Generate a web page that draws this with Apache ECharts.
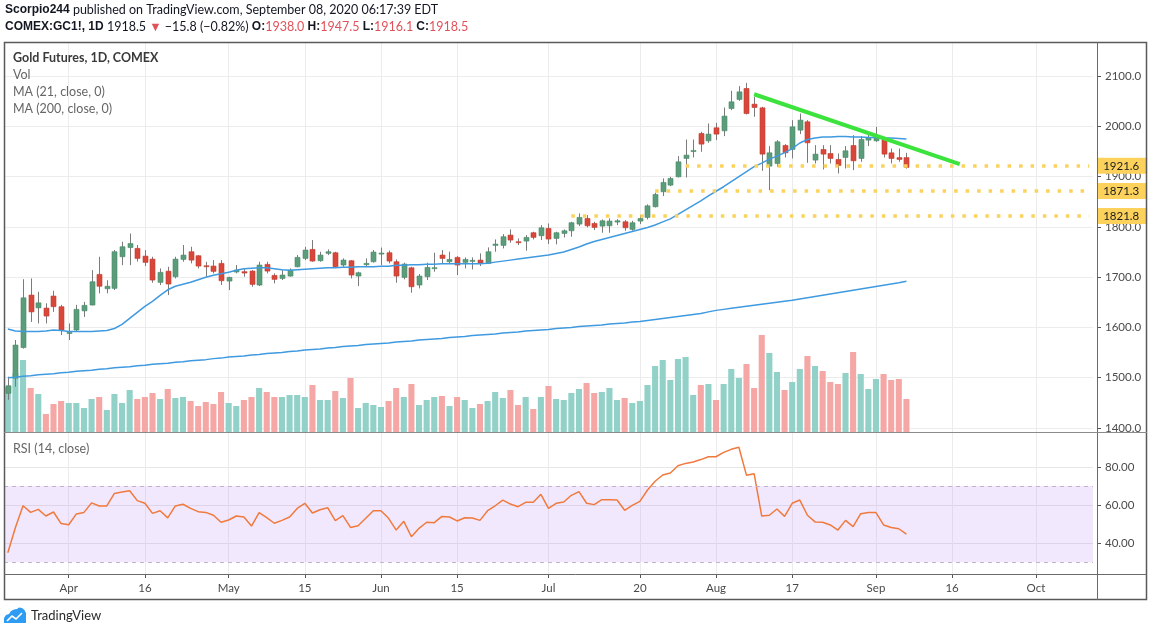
<!DOCTYPE html>
<html><head><meta charset="utf-8">
<script src="https://cdn.jsdelivr.net/npm/echarts/dist/echarts.min.js"></script>
<style>html,body{margin:0;padding:0;background:#fff}#c{width:1151px;height:629px}</style>
</head><body><div id="c"></div>
<script>
// ---------- DATA ----------
const dates = [
'2020-03-20','2020-03-23','2020-03-24','2020-03-25','2020-03-26','2020-03-27','2020-03-30','2020-03-31',
'2020-04-01','2020-04-02','2020-04-03','2020-04-06','2020-04-07','2020-04-08','2020-04-09','2020-04-13','2020-04-14','2020-04-15','2020-04-16','2020-04-17','2020-04-20','2020-04-21','2020-04-22','2020-04-23','2020-04-24','2020-04-27','2020-04-28','2020-04-29','2020-04-30',
'2020-05-01','2020-05-04','2020-05-05','2020-05-06','2020-05-07','2020-05-08','2020-05-11','2020-05-12','2020-05-13','2020-05-14','2020-05-15','2020-05-18','2020-05-19','2020-05-20','2020-05-21','2020-05-22','2020-05-26','2020-05-27','2020-05-28','2020-05-29',
'2020-06-01','2020-06-02','2020-06-03','2020-06-04','2020-06-05','2020-06-08','2020-06-09','2020-06-10','2020-06-11','2020-06-12','2020-06-15','2020-06-16','2020-06-17','2020-06-18','2020-06-19','2020-06-22','2020-06-23','2020-06-24','2020-06-25','2020-06-26','2020-06-29','2020-06-30',
'2020-07-01','2020-07-02','2020-07-06','2020-07-07','2020-07-08','2020-07-09','2020-07-10','2020-07-13','2020-07-14','2020-07-15','2020-07-16','2020-07-17','2020-07-20','2020-07-21','2020-07-22','2020-07-23','2020-07-24','2020-07-27','2020-07-28','2020-07-29','2020-07-30','2020-07-31',
'2020-08-03','2020-08-04','2020-08-05','2020-08-06','2020-08-07','2020-08-10','2020-08-11','2020-08-12','2020-08-13','2020-08-14','2020-08-17','2020-08-18','2020-08-19','2020-08-20','2020-08-21','2020-08-24','2020-08-25','2020-08-26','2020-08-27','2020-08-28','2020-08-31',
'2020-09-01','2020-09-02','2020-09-03','2020-09-04','2020-09-08','2020-09-09','2020-09-10','2020-09-11','2020-09-14','2020-09-15','2020-09-16','2020-09-17','2020-09-18','2020-09-21','2020-09-22','2020-09-23','2020-09-24','2020-09-25','2020-09-28','2020-09-29','2020-09-30',
'2020-10-01','2020-10-02','2020-10-05','2020-10-06','2020-10-07','2020-10-08','2020-10-09','2020-10-12'
];

// [open, high, low, close]
const candles = [
[1469,1502,1456,1484],[1499,1575,1482,1565],[1560,1696,1558,1659],[1664.5,1697.6,1611,1631],[1639,1671,1608,1649],
[1638.6,1648,1608,1622.7],[1662.5,1673,1631,1641.3],[1641.3,1645,1585,1595],
[1588,1608,1575,1590],[1595,1645,1592,1636],[1633,1651,1621,1644],[1644.6,1714,1644,1691],[1705.6,1740.7,1667.8,1682],
[1677,1694,1668,1682],[1677.8,1754,1674.4,1750.7],[1740.7,1770.6,1724,1760.6],[1759,1787,1724,1767],[1757.3,1764,1731,1737.4],
[1742,1754,1722,1729.5],[1736,1740.7,1689,1694.3],[1689.7,1717.5,1684.4,1709.6],[1712,1720.8,1664.5,1686.4],[1701,1740.7,1697.6,1736],
[1735.4,1764,1730.8,1744],[1750.7,1760.6,1727.5,1734],[1742.7,1744,1717.5,1722.2],[1722.8,1730.8,1701,1720.8],[1722.2,1734,1707.6,1711.6],
[1727.5,1734,1684.4,1693],
[1692.3,1701,1674.4,1699.6],[1710.3,1724.2,1707.6,1714.2],[1711,1717.5,1701,1708.3],[1712.2,1714.2,1681,1685.7],[1684.4,1730.8,1682.4,1724.2],
[1725.5,1730.8,1707.6,1712.2],[1703.6,1707.6,1687.7,1695.7],[1697.6,1714.2,1694.3,1704.3],[1702.3,1717.5,1701,1714.2],[1720.8,1744,1719.5,1739.4],
[1737.4,1760.6,1734,1754],[1755.3,1773.9,1730.8,1732.1],[1732.8,1750.7,1730.8,1744],[1747.4,1755.3,1744,1750.7],[1748.7,1750.7,1719.5,1720.8],
[1724.2,1737.4,1720.8,1734.1],[1732.8,1734.1,1697.6,1704.3],[1702.3,1710.9,1682.4,1708.9],[1724.8,1737.4,1720.8,1727.5],[1730.8,1754,1729,1750],
[1746,1759,1724,1748],[1748.7,1753,1727.5,1732.1],[1730.8,1735.4,1689,1702.3],[1699.6,1728.8,1695.7,1726.1],[1718.8,1720.8,1669.1,1681],
[1684.4,1706.3,1677.8,1702.3],[1701,1728.8,1694.3,1719.5],[1717.5,1748.7,1710.9,1719],[1744.1,1754,1726.1,1737.4],[1730.8,1750.7,1727.5,1735.4],
[1739.4,1742,1704.3,1724.2],[1729.5,1739.4,1717.5,1735.4],[1732,1739.4,1715.5,1733.5],[1734.1,1747.4,1722.2,1727.5],[1727.5,1759.3,1726.1,1750.7],
[1763.3,1775.2,1750.7,1765.9],[1763.3,1785.8,1757.3,1780.5],[1783.8,1795.1,1768.6,1773.9],[1770.6,1777.2,1763.9,1768.6],[1771.9,1783.8,1752.7,1779.2],
[1788.5,1790.5,1775.2,1779.2],[1782.5,1803.7,1773.9,1798.4],
[1797.1,1807,1765.9,1775.9],[1777.2,1790.5,1765.3,1788.5],[1787.1,1795.1,1779.2,1792.4],[1792.4,1810.3,1780.5,1808.4],[1805.7,1826.9,1801.7,1818.9],
[1816.9,1823.6,1799.1,1802.4],[1807,1810.3,1793.8,1799.1],[1801.7,1815,1788.5,1812.3],[1802.4,1817,1788.5,1811.7],[1809.7,1815.6,1803.7,1812.3],
[1810.3,1813.6,1792.4,1798.4],[1795.1,1812.3,1792.4,1808.4],[1811.7,1823.6,1805.7,1816.9],[1819,1845,1815,1842],[1840.2,1868,1838.8,1864.7],
[1870,1896.5,1861.4,1888.6],[1883.2,1899.8,1881.2,1896.5],[1899.8,1940.9,1898.5,1929.6],[1936.3,1974,1898.5,1942.9],[1950,1974,1938.3,1952],
[1986,1989.3,1949.5,1964.8],[1971.4,2005.9,1967.4,1984.7],
[1997.3,2007.2,1972.7,1984.7],[1991.3,2037.7,1980.7,2020.5],[2035.7,2070.8,2032.4,2049],[2053.6,2080.1,2050.9,2068.8],[2075.5,2086.7,2023.8,2025.7],
[2044.3,2058.9,2019.1,2037.7],[2037,2039,1911.7,1944.9],[1921,1960.8,1873.3,1947.5],[1926.3,1972.7,1919.7,1969.4],[1962.1,1964.8,1938.3,1947.5],
[1954.2,2012.5,1936.3,1999.2],[1992.6,2025.7,1984.7,2012.5],[2009.2,2012.5,1927.7,1967.4],[1933,1962.8,1926.3,1944.9],[1954.2,1962.8,1914.4,1944.9],
[1946.2,1962.8,1926.3,1936.3],[1934.3,1946.2,1906.4,1922.4],[1938.3,1960.8,1916.4,1951.5],[1962.1,1982.7,1913.1,1931.6],[1936.3,1980.7,1929.6,1974.1],
[1972.7,1987.3,1960.8,1978],
[1971.4,1999.2,1969.4,1978],[1976,1979.4,1938.3,1944.9],[1947.5,1956.1,1926.3,1936.3],[1938,1956.1,1929.6,1934.3],[1938.0,1947.5,1916.1,1918.5]
];

// relative volume (bar heights as read)
const volume = [
45,59,72,44,38,18,28,31,29,29,24,33,35,22,38,29,42,33,35,39,33,43,34,35,31,26,30,28,40,29,
26,32,35,44,40,35,35,37,37,35,47,32,32,41,34,54,24,29,27,
25,31,44,35,48,27,32,35,36,26,35,32,24,28,31,40,34,42,27,35,23,35,46,33,32,39,43,49,39,40,
44,32,34,29,31,47,66,72,52,73,75,37,47,48,32,48,63,54,68,
44,97,79,60,42,50,63,76,66,61,50,48,59,80,58,43,53,58,52,53,33
];

const ma21 = [
1597,1593,1592,1592,1592,1593,1595,1594,1592,1592,
1592,1592,1593,1594,1598,1606,1618,1630,1642,1652,
1664,1675,1682,1686,1690,1695,1700,1704,1707,1710,
1714,1717,1718,1719,1719,1717,1715,1714,1715,1716,
1717,1718,1719,1719,1720,1720,1721,1721,1721,1722,
1722,1724,1724,1725,1725,1726,1726,1727,1727,1727,
1727,1727,1727,1728,1730,1732,1734,1736,1738,1740,
1742,1744,1747,1750,1755,1760,1766,1771,1775,1779,
1783,1787,1791,1795,1799,1804,1810,1816,1825,1834,
1843,1852,1862,1871,1880,1890,1900,1910,1920,1927,
1935,1941,1948,1956,1967,1974,1977,1979,1979,1980,
1980,1979,1979,1978,1978,1977,1977,1976,1975
];

const ma200 = [
1500,1501,1503,1504,1506,1507,1508,1510,1511,1513,1514,1515,1517,1518,1520,1521,1522,1524,1525,1527,
1528,1529,1531,1532,1534,1535,1536,1538,1539,1541,1542,1543,1545,1546,1548,1549,1550,1552,1553,1555,
1556,1557,1559,1560,1562,1563,1564,1566,1567,
1568,1569,1571,1572,1573,1575,1576,1577,1578,1580,1581,1582,1584,1585,1586,1587,1589,1590,1591,1593,
1594,1595,1596,1598,1599,1600,1602,1603,1604,1605,1607,1608,1609,1611,1612,
1614,1616,1618,1620,1622,1624,1626,1628,1631,1634,
1636,1638,1640,1642,1644,1646,1648,1650,1652,1654,
1656.5,1659,1661.5,1664,1666.5,1669,1671.5,1674,1676.5,1679,1681.5,1684,1686.5,1689,1692
];

const rsi = [
34.9,48.2,59.6,56.1,57.7,54.2,56.3,50.2,49.6,55.3,
56.1,61.1,59.5,59.5,66.1,66.8,67.5,62.3,60.9,55.6,
57.0,53.2,59.5,60.4,58.2,56.5,56.1,54.6,50.9,52.1,
54.2,53.7,48.9,56.0,53.3,50.4,51.9,53.7,58.2,60.9,
55.8,57.5,58.6,51.8,54.4,48.2,49.1,53.0,57.0,57.0,
53.0,46.8,51.4,43.3,47.7,50.9,50.7,54.0,53.7,51.6,
53.3,53.2,51.9,57.0,59.6,62.6,60.5,59.1,61.4,61.4,
65.6,58.2,60.9,61.6,65.1,67.0,60.9,60.2,62.8,62.8,
62.6,57.2,59.8,61.9,67.9,72.5,75.8,76.8,80.7,81.9,
82.6,83.9,85.4,85.4,87.7,89.3,90.4,75.6,76.5,54.2,
54.6,57.9,54.0,60.9,62.6,54.6,51.1,50.9,49.5,46.8,
51.9,48.6,55.4,56.0,56.0,49.5,48.2,47.5,44.7
];

const tickLabels = [
['2020-04-01','Apr'],['2020-04-16','16'],['2020-05-01','May'],['2020-05-15','15'],['2020-06-01','Jun'],
['2020-06-15','15'],['2020-07-01','Jul'],['2020-07-20','20'],['2020-08-03','Aug'],['2020-08-17','17'],
['2020-09-01','Sep'],['2020-09-16','16'],['2020-10-01','Oct']
];

const levelValues = [1921.6, 1871.3, 1821.8];
const levelStarts = ['2020-07-28', '2020-07-22', '2020-07-07'];
const trendLine = [['2020-08-10', 2064], ['2020-09-17', 1925]];
const quote = ['1918.5', '\u221215.8', '\u22120.82%'];

// ---------- CHART ----------
const FONT = 'Lato, "Noto Sans", sans-serif';
const UP = '#5b9c7a', DN = '#d8473a', UPB = '#4a8a69', DNB = '#c53c30';
const VUP = '#91d1c8', VDN = '#f5a7a6';
const tickMap = Object.fromEntries(tickLabels);
const showTick = (idx, val) => tickMap[val] !== undefined;

const candleData = candles.map((c, i) => [dates[i], c[0], c[1], c[2], c[3]]);
const volData = volume.map((v, i) => ({
  value: [dates[i], v],
  itemStyle: { color: candles[i][3] >= candles[i][0] ? VUP : VDN }
}));

function renderCandle(params, api) {
  const x = api.value(0);
  const o = api.value(1), h = api.value(2), l = api.value(3), c = api.value(4);
  const pO = api.coord([x, o]), pC = api.coord([x, c]);
  const pH = api.coord([x, h]), pL = api.coord([x, l]);
  const bw = api.size([1, 0])[0] * 0.66;
  const up = c >= o;
  const cx = Math.round(pO[0]) + 0.5;
  const top = Math.min(pO[1], pC[1]), bot = Math.max(pO[1], pC[1]);
  return {
    type: 'group',
    children: [
      { type: 'line', shape: { x1: cx, y1: pH[1], x2: cx, y2: pL[1] }, style: { stroke: '#7b7b7b', lineWidth: 1 } },
      { type: 'rect', shape: { x: cx - bw / 2, y: top, width: bw, height: Math.max(bot - top, 1) },
        style: { fill: up ? UP : DN, stroke: up ? UPB : DNB, lineWidth: 0.6 } }
    ]
  };
}

const levelLines = levelValues.map((v, k) => [
  { coord: [levelStarts[k], v], symbol: 'none',
    lineStyle: { color: '#fbd25b', width: 3.5, type: [3.5, 8] },
    label: { show: true, position: 'end', formatter: v.toFixed(1), distance: 8,
      backgroundColor: '#fcd25c', color: '#1c1c1c', fontSize: 11.5, fontFamily: FONT,
      padding: [2, 0, 1, 6], width: 44, lineHeight: 13, align: 'left' } },
  { coord: [dates[dates.length - 1], v], symbol: 'none' }
]);
const trend = [
  { coord: trendLine[0], symbol: 'none', lineStyle: { color: '#3de33d', width: 4, type: 'solid' }, label: { show: false } },
  { coord: trendLine[1], symbol: 'none' }
];

const xBase = {
  type: 'category', data: dates, boundaryGap: true,
  axisLine: { show: false },
  splitLine: { show: true, interval: showTick, alignWithLabel: true, lineStyle: { color: '#ececec', width: 1 } }
};

const last = candles[candles.length - 1];

const option = {
  animation: false,
  backgroundColor: '#fff',
  grid: [
    { left: 4, right: 58, top: 42, bottom: 197 },
    { left: 4, right: 58, top: 432, bottom: 55 }
  ],
  xAxis: [
    Object.assign({}, xBase, { gridIndex: 0, axisLabel: { show: false }, axisTick: { show: false } }),
    Object.assign({}, xBase, { gridIndex: 1,
      axisTick: { show: true, interval: showTick, alignWithLabel: true, length: 4, lineStyle: { color: '#555' } },
      axisLabel: { show: true, interval: showTick, formatter: v => tickMap[v] || '', color: '#4a4a4a',
        fontSize: 11.5, fontFamily: FONT, margin: 8 } })
  ],
  yAxis: [
    { type: 'value', gridIndex: 0, position: 'right', offset: 4, min: 1392, max: 2168, splitNumber: 8,
      axisLine: { show: false }, axisTick: { show: true, length: 4, lineStyle: { color: '#555' } },
      axisLabel: { color: '#4a4a4a', fontSize: 11.5, fontFamily: FONT, margin: 8, showMinLabel: false, showMaxLabel: false,
        formatter: v => v.toFixed(1) },
      splitLine: { show: true, lineStyle: { color: '#ececec' } } },
    { type: 'value', gridIndex: 0, min: 0, max: 390, show: false, splitLine: { show: false } },
    { type: 'value', gridIndex: 1, position: 'right', offset: 4, min: 23.68, max: 98.42, splitNumber: 4,
      axisLine: { show: false }, axisTick: { show: true, length: 4, lineStyle: { color: '#555' } },
      axisLabel: { color: '#4a4a4a', fontSize: 11.5, fontFamily: FONT, margin: 8, showMinLabel: false, showMaxLabel: false,
        formatter: v => v.toFixed(2) },
      splitLine: { show: true, lineStyle: { color: '#e6e6e6' } } }
  ],
  series: [
    { type: 'bar', name: 'Vol', xAxisIndex: 0, yAxisIndex: 1, data: volData, barWidth: '80%', z: 1, silent: true },
    { type: 'custom', name: 'Gold', xAxisIndex: 0, yAxisIndex: 0, data: candleData, renderItem: renderCandle,
      encode: { x: 0, y: [1, 2, 3, 4] }, z: 3, silent: true },
    { type: 'line', name: 'MA21', xAxisIndex: 0, yAxisIndex: 0, data: ma21, showSymbol: false, symbol: 'none',
      lineStyle: { color: '#3f9ae0', width: 1.5 }, z: 4, silent: true },
    { type: 'line', name: 'MA200', xAxisIndex: 0, yAxisIndex: 0, data: ma200, showSymbol: false, symbol: 'none',
      lineStyle: { color: '#3f9ae0', width: 1.5 }, z: 4, silent: true,
      markLine: { silent: true, symbol: ['none', 'none'], animation: false, data: levelLines.concat([trend]) } },
    { type: 'line', name: 'RSI', xAxisIndex: 1, yAxisIndex: 2, data: rsi, showSymbol: false, symbol: 'none',
      lineStyle: { color: '#f07a3d', width: 1.5 }, z: 4, silent: true,
      markArea: { silent: true, itemStyle: { color: 'rgba(196,150,250,0.22)' }, data: [[{ yAxis: 70 }, { yAxis: 30 }]] },
      markLine: { silent: true, symbol: ['none', 'none'], label: { show: false },
        lineStyle: { color: '#c2b4cc', type: [4, 4], width: 1 }, data: [{ yAxis: 70 }, { yAxis: 30 }] } }
  ],
  graphic: [
    { type: 'text', left: 5, top: 3, z: 100, style: {
      text: '{b|Scorpio244} published on TradingView.com, September 08, 2020 06:17:39 EDT',
      font: '12.5px ' + FONT, fill: '#131722', rich: { b: { fontWeight: 'bold', font: 'bold 12.5px ' + FONT } } } },
    { type: 'text', left: 5, top: 20, z: 100, style: {
      text: '{b|COMEX:GC1!, 1D} ' + quote[0] + ' {r|\u25BC} ' + quote[1] + ' (' + quote[2] + ') {b|O:}{r|' +
        last[0].toFixed(1) + '} {b|H:}{r|' + last[1].toFixed(1) +
        '} {b|L:}{r|' + last[2].toFixed(1) + '} {b|C:}{r|' + last[3].toFixed(1) + '}',
      font: '12.5px ' + FONT, fill: '#131722',
      rich: { b: { fontWeight: 'bold', font: 'bold 12.5px ' + FONT, fill: '#131722' },
              r: { fill: '#e0525a', font: '12.5px ' + FONT } } } },
    { type: 'text', left: 13, top: 51, z: 100, style: { text: 'Gold Futures, 1D, COMEX', font: 'bold 12.5px ' + FONT, fill: '#3a3a3a' } },
    { type: 'text', left: 13, top: 68, z: 100, style: { text: 'Vol', font: '12.5px ' + FONT, fill: '#666' } },
    { type: 'text', left: 13, top: 85, z: 100, style: { text: 'MA (21, close, 0)', font: '12.5px ' + FONT, fill: '#666' } },
    { type: 'text', left: 13, top: 102, z: 100, style: { text: 'MA (200, close, 0)', font: '12.5px ' + FONT, fill: '#666' } },
    { type: 'text', left: 13, top: 442, z: 100, style: { text: 'RSI (14, close)', font: '12.5px ' + FONT, fill: '#666' } },
    { type: 'rect', z: 90, shape: { x: 4.5, y: 42.5, width: 1142, height: 557 }, style: { fill: 'none', stroke: '#5a5a5a', lineWidth: 1.5 } },
    { type: 'line', z: 90, shape: { x1: 1097.5, y1: 42, x2: 1097.5, y2: 600 }, style: { stroke: '#6a6a6a', lineWidth: 1 } },
    { type: 'line', z: 90, shape: { x1: 4, y1: 432.5, x2: 1147, y2: 432.5 }, style: { stroke: '#8a8a8a', lineWidth: 1 } },
    { type: 'line', z: 90, shape: { x1: 4, y1: 574.5, x2: 1147, y2: 574.5 }, style: { stroke: '#6a6a6a', lineWidth: 1 } },
    { type: 'polygon', z: 100, shape: { points: [[4,623],[4,618],[6,615],[9,614],[11,611],[14,609.5],[17,609],[19,607.5],[22,608],[24.5,610],[26,613],[26,623]] },
      style: { fill: '#2e9cf2' } },
    { type: 'polyline', z: 101, shape: { points: [[7, 621], [12, 616], [16, 619], [22, 613]] }, style: { stroke: '#fff', lineWidth: 1.6, fill: 'none' } },
    { type: 'text', left: 31, top: 609, z: 100, style: { text: 'TradingView', font: '13px ' + FONT, fill: '#2a2a2a' } }
  ]
};

const chart = echarts.init(document.getElementById('c'), null, { renderer: 'canvas' });
chart.setOption(option);
</script>
</body></html>
